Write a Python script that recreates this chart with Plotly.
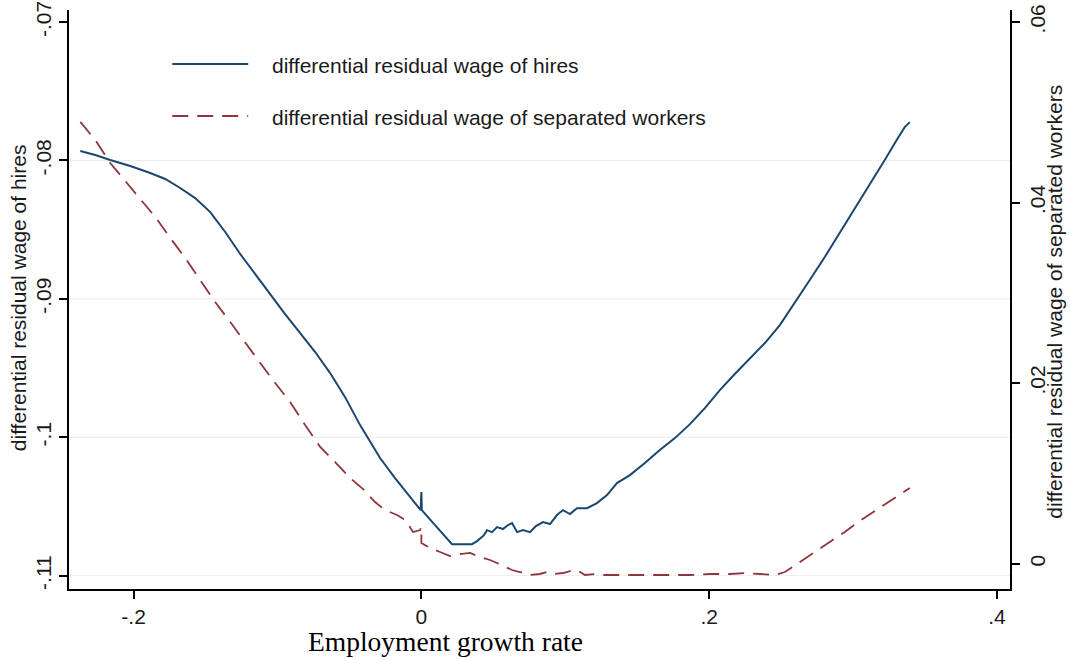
import plotly.graph_objects as go

# Employment growth rate (x) and differential residual wage of hires (left axis)
x_hires = [-0.2370, -0.2266, -0.2162, -0.2023, -0.1884, -0.1780, -0.1676, -0.1572,
           -0.1467, -0.1363, -0.1259, -0.1155, -0.1051, -0.0947, -0.0842, -0.0738,
           -0.0634, -0.0530, -0.0426, -0.0356, -0.0287, -0.0183, -0.0078, -0.0005,
           0.0000, 0.0003, 0.0095, 0.0213, 0.0352, 0.0387, 0.0435, 0.0456, 0.0491,
           0.0526, 0.0567, 0.0602, 0.0630, 0.0665, 0.0706, 0.0755, 0.0796, 0.0845,
           0.0894, 0.0942, 0.0984, 0.1033, 0.1081, 0.1151, 0.1220, 0.1290, 0.1359,
           0.1449, 0.1553, 0.1657, 0.1762, 0.1866, 0.1970, 0.2074, 0.2178, 0.2282,
           0.2387, 0.2491, 0.2595, 0.2699, 0.2803, 0.2907, 0.3012, 0.3116, 0.3220,
           0.3303, 0.3359, 0.3394]
wage_hires = [-0.07932, -0.07961, -0.07997, -0.08040, -0.08091, -0.08134, -0.08199, -0.08272,
              -0.08373, -0.08517, -0.08676, -0.08821, -0.08965, -0.09110, -0.09247, -0.09384,
              -0.09536, -0.09710, -0.09912, -0.10027, -0.10150, -0.10295, -0.10432, -0.10526,
              -0.10396, -0.10526, -0.10634, -0.10772, -0.10772, -0.10750, -0.10707, -0.10671, -0.10685,
              -0.10649, -0.10663, -0.10634, -0.10620, -0.10685, -0.10671, -0.10685, -0.10642, -0.10613,
              -0.10627, -0.10562, -0.10526, -0.10555, -0.10512, -0.10512, -0.10475, -0.10418, -0.10331,
              -0.10273, -0.10186, -0.10092, -0.10006, -0.09905, -0.09789, -0.09659, -0.09543, -0.09435,
              -0.09319, -0.09189, -0.09030, -0.08864, -0.08698, -0.08525, -0.08351, -0.08178, -0.07997,
              -0.07853, -0.07759, -0.07723]

# Employment growth rate (x) and differential residual wage of separated workers (right axis)
x_sep = [-0.2370, -0.2266, -0.2162, -0.2058, -0.1953, -0.1849, -0.1745, -0.1641,
         -0.1537, -0.1433, -0.1328, -0.1224, -0.1120, -0.1016, -0.0912, -0.0808,
         -0.0703, -0.0599, -0.0495, -0.0405, -0.0322, -0.0253, -0.0169, -0.0113,
         -0.0058, -0.0009, 0.0000, 0.0000, 0.0060, 0.0130, 0.0199, 0.0269, 0.0338,
         0.0407, 0.0477, 0.0526, 0.0581, 0.0630, 0.0685, 0.0755, 0.0824, 0.0873,
         0.0928, 0.0984, 0.1033, 0.1081, 0.1137, 0.1206, 0.1276, 0.1345, 0.1449,
         0.1588, 0.1727, 0.1866, 0.2005, 0.2144, 0.2248, 0.2352, 0.2456, 0.2526,
         0.2630, 0.2734, 0.2838, 0.2942, 0.3046, 0.3151, 0.3255, 0.3324, 0.3394]
wage_sep = [0.04893, 0.04693, 0.04438, 0.04239, 0.04051, 0.03840, 0.03608, 0.03386,
            0.03142, 0.02899, 0.02677, 0.02445, 0.02223, 0.02002, 0.01791, 0.01536,
            0.01293, 0.01126, 0.00949, 0.00827, 0.00683, 0.00595, 0.00539, 0.00484,
            0.00351, 0.00373, 0.00407, 0.00229, 0.00174, 0.00130, 0.00085, 0.00107, 0.00119,
            0.00074, 0.00041, 0.00008, -0.00037, -0.00070, -0.00092, -0.00125, -0.00114, -0.00092,
            -0.00114, -0.00103, -0.00081, -0.00070, -0.00125, -0.00114, -0.00125, -0.00125, -0.00125,
            -0.00125, -0.00125, -0.00125, -0.00114, -0.00114, -0.00103, -0.00114, -0.00125, -0.00092,
            0.00019, 0.00130, 0.00240, 0.00351, 0.00473, 0.00584, 0.00695, 0.00772, 0.00838]

x_ticks = [-0.2, 0, 0.2, 0.4]
x_tick_text = ["-.2", "0", ".2", ".4"]
left_ticks = [-0.11, -0.10, -0.09, -0.08, -0.07]
left_tick_text = ["-.11", "-.1", "-.09", "-.08", "-.07"]
left_grid = [-0.11, -0.10, -0.09, -0.08]
right_ticks = [0, 0.02, 0.04, 0.06]
right_tick_text = ["0", ".02", ".04", ".06"]

label_hires = "differential residual wage of hires"
label_sep = "differential residual wage of separated workers"

NAVY = "#1a476f"
MAROON = "#90353b"
SANS = "Liberation Sans, Arial, sans-serif"
SERIF = "Liberation Serif, Times New Roman, serif"
INK = "#1a1a1a"
DASH = "16px,9px"

fig = go.Figure()
fig.add_trace(go.Scatter(x=x_hires, y=wage_hires, mode="lines", name=label_hires,
                         line=dict(color=NAVY, width=2), yaxis="y", showlegend=False))
fig.add_trace(go.Scatter(x=x_sep, y=wage_sep, mode="lines", name=label_sep,
                         line=dict(color=MAROON, width=1.8, dash=DASH), yaxis="y2",
                         showlegend=False))

axis_common = dict(showline=True, linecolor="#000000", linewidth=1.5, ticks="outside",
                   ticklen=8, tickwidth=1.5, tickcolor="#000000", zeroline=False,
                   showgrid=False, automargin=False,
                   tickfont=dict(family=SANS, size=21, color=INK))

fig.update_layout(
    width=1070, height=660,
    margin=dict(l=69, r=60, t=10, b=71),
    paper_bgcolor="white", plot_bgcolor="white",
    xaxis=dict(range=[-0.24486, 0.40903], tickvals=x_ticks, ticktext=x_tick_text,
               **axis_common),
    yaxis=dict(range=[-0.110961, -0.06913], tickvals=left_ticks, ticktext=left_tick_text,
               tickangle=-90, **axis_common),
    yaxis2=dict(range=[-0.002802, 0.061329], tickvals=right_ticks, ticktext=right_tick_text,
                tickangle=-90, overlaying="y", side="right", **axis_common),
)

# horizontal gridlines at the left-axis ticks
for g in left_grid:
    fig.add_shape(type="line", xref="paper", x0=0, x1=1, yref="y", y0=g, y1=g,
                  line=dict(color="#e6edf1", width=1), layer="below")

# legend drawn as line samples with labels
legend_rows = [(label_hires, NAVY, "solid", 0.9067), (label_sep, MAROON, DASH, 0.8169)]
for text, color, dash, yy in legend_rows:
    fig.add_shape(type="line", xref="paper", yref="paper", x0=0.1097, x1=0.1904,
                  y0=yy, y1=yy, line=dict(color=color, width=1.8, dash=dash))
    fig.add_annotation(text=text, xref="paper", yref="paper", x=0.2138, y=yy - 0.002,
                       xanchor="left", yanchor="middle", showarrow=False,
                       font=dict(family=SANS, size=21, color=INK))

# axis titles
fig.add_annotation(text="Employment growth rate", xref="paper", yref="paper",
                   x=0.4002, y=-0.0915, xanchor="center", yanchor="middle", showarrow=False,
                   font=dict(family=SERIF, size=27.5, color="#000000"))
fig.add_annotation(text=label_hires, xref="paper", yref="paper", x=-0.0542, y=0.504,
                   xanchor="center", yanchor="middle", textangle=-90, showarrow=False,
                   font=dict(family=SANS, size=21, color=INK))
fig.add_annotation(text=label_sep, xref="paper", yref="paper", x=1.0475, y=0.4957,
                   xanchor="center", yanchor="middle", textangle=-90, showarrow=False,
                   font=dict(family=SANS, size=21, color=INK))

fig.write_html("out.html")
